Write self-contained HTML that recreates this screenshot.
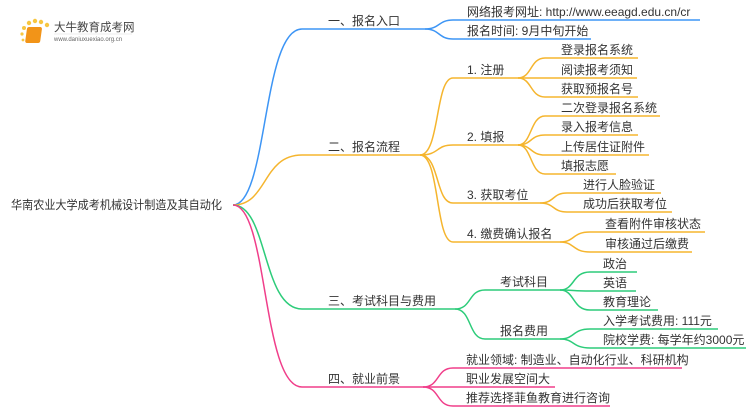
<!DOCTYPE html>
<html><head><meta charset="utf-8"><style>
html,body{margin:0;padding:0;background:#fff;width:750px;height:410px;overflow:hidden}
svg text{font-family:"Liberation Sans","Noto Sans CJK SC",sans-serif;font-size:12px;fill:#333}
</style></head><body>
<svg width="750" height="410" viewBox="0 0 750 410" xmlns="http://www.w3.org/2000/svg">
<g fill="none" stroke-width="1.5">
<g stroke="#3d95f5">
<path d="M233 205 C268 205,262 29,302 29 H425"/>
<path d="M425 29 C440 29,438 20,453 20 H700"/>
<path d="M425 29 C440 29,438 39,453 39 H591"/>
</g>
<g stroke="#f5b52e">
<path d="M233 205 C268 205,262 155,302 155 H420"/>
<path d="M420 155 C440 155,435 78,453 78 H518"/>
<path d="M420 155 C440 155,435 145,453 145 H518"/>
<path d="M420 155 C440 155,435 203,453 203 H540"/>
<path d="M420 155 C440 155,435 242,453 242 H560"/>
<path d="M518 78 C532 78,530 58,545 58 H638"/>
<path d="M518 78 C532 78,530 78,545 78 H637"/>
<path d="M518 78 C532 78,530 97,545 97 H638"/>
<path d="M518 145 C532 145,530 116,545 116 H660"/>
<path d="M518 145 C532 145,530 135,545 135 H638"/>
<path d="M518 145 C532 145,530 155,545 155 H649"/>
<path d="M518 145 C532 145,530 174,545 174 H616"/>
<path d="M540 203 C555 203,552 193,567 193 H661"/>
<path d="M540 203 C555 203,552 212,567 212 H672"/>
<path d="M560 242 C575 242,572 232,590 232 H705"/>
<path d="M560 242 C575 242,572 252,590 252 H692"/>
</g>
<g stroke="#2dcc7a">
<path d="M233 205 C268 205,262 309,302 309 H455"/>
<path d="M455 309 C472 309,468 290,485 290 H560"/>
<path d="M455 309 C472 309,468 339,485 339 H560"/>
<path d="M560 290 C575 290,572 272,590 272 H637"/>
<path d="M560 290 C575 290,572 291,590 291 H636"/>
<path d="M560 290 C575 290,572 310,590 310 H658"/>
<path d="M560 339 C575 339,572 329,590 329 H718"/>
<path d="M560 339 C575 339,572 348,590 348 H746"/>
</g>
<g stroke="#f03e8a">
<path d="M233 205 C268 205,262 387,302 387 H423"/>
<path d="M423 387 C440 387,436 368,453 368 H682"/>
<path d="M423 387 C440 387,436 387,453 387 H555"/>
<path d="M423 387 C440 387,436 406,453 406 H610"/>
</g>
</g>
<g>
<circle cx="24" cy="28" r="2" fill="#f7c640"/><circle cx="29" cy="23" r="2.2" fill="#f7c640"/><circle cx="35" cy="21" r="2.2" fill="#f7c640"/><circle cx="41" cy="22" r="2.2" fill="#f7c640"/><circle cx="47" cy="25" r="2.2" fill="#f7c640"/><circle cx="22" cy="34" r="1.6" fill="#f7c640"/><circle cx="23" cy="40" r="1.4" fill="#f7c640"/>
<rect x="31" y="27" width="15" height="16" rx="2" fill="#f29418" transform="skewX(-8)"/>
<text x="54" y="31" style="font-size:11.5px;fill:#444">大牛教育成考网</text>
<text x="54" y="41" style="font-size:6px;fill:#666">www.daniuxuexiao.org.cn</text>
<line x1="54" y1="34" x2="132" y2="34" stroke="#ddd" stroke-width="0.6"/>
</g>
<text x="11" y="209" textLength="211" lengthAdjust="spacingAndGlyphs">华南农业大学成考机械设计制造及其自动化</text>
<text x="328" y="25">一、报名入口</text>
<text x="467" y="16">网络报考网址: http://www.eeagd.edu.cn/cr</text>
<text x="467" y="35">报名时间: 9月中旬开始</text>
<text x="328" y="151">二、报名流程</text>
<text x="467" y="74">1. 注册</text>
<text x="561" y="54">登录报名系统</text>
<text x="561" y="74">阅读报考须知</text>
<text x="561" y="93">获取预报名号</text>
<text x="467" y="141">2. 填报</text>
<text x="561" y="112">二次登录报名系统</text>
<text x="561" y="131">录入报考信息</text>
<text x="561" y="151">上传居住证附件</text>
<text x="561" y="170">填报志愿</text>
<text x="467" y="199">3. 获取考位</text>
<text x="583" y="189">进行人脸验证</text>
<text x="583" y="208">成功后获取考位</text>
<text x="467" y="238">4. 缴费确认报名</text>
<text x="605" y="228">查看附件审核状态</text>
<text x="605" y="248">审核通过后缴费</text>
<text x="328" y="305">三、考试科目与费用</text>
<text x="500" y="286">考试科目</text>
<text x="603" y="268">政治</text>
<text x="603" y="287">英语</text>
<text x="603" y="306">教育理论</text>
<text x="500" y="335">报名费用</text>
<text x="603" y="325">入学考试费用: 111元</text>
<text x="603" y="344">院校学费: 每学年约3000元</text>
<text x="328" y="383">四、就业前景</text>
<text x="466" y="364">就业领域: 制造业、自动化行业、科研机构</text>
<text x="466" y="383">职业发展空间大</text>
<text x="466" y="402">推荐选择菲鱼教育进行咨询</text>
</svg>
</body></html>
